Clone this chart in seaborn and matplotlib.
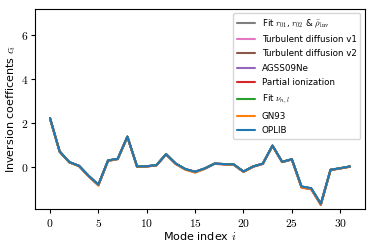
import numpy as np
import pandas as pd
import matplotlib
matplotlib.use("Agg")
import matplotlib.pyplot as plt
import seaborn as sns
from matplotlib.ticker import FuncFormatter

modes = list(range(32))

oplib = [2.23, 0.71, 0.23, 0.06, -0.40, -0.80, 0.30, 0.38, 1.39, 0.03, 0.04, 0.09,
         0.59, 0.16, -0.09, -0.21, -0.06, 0.16, 0.14, 0.12, -0.20, 0.03, 0.16, 0.98,
         0.24, 0.36, -0.88, -0.96, -1.67, -0.12, -0.05, 0.03]
gn93 = [2.22, 0.70, 0.21, 0.05, -0.42, -0.84, 0.28, 0.36, 1.37, 0.02, 0.03, 0.08,
        0.58, 0.14, -0.12, -0.25, -0.08, 0.15, 0.13, 0.10, -0.22, 0.02, 0.15, 0.97,
        0.23, 0.34, -0.92, -1.00, -1.70, -0.13, -0.06, 0.02]
fit_nu = [2.23, 0.71, 0.22, 0.06, -0.40, -0.81, 0.30, 0.37, 1.38, 0.03, 0.04, 0.09,
          0.59, 0.16, -0.10, -0.22, -0.06, 0.16, 0.14, 0.12, -0.20, 0.03, 0.16, 0.98,
          0.24, 0.36, -0.89, -0.97, -1.68, -0.12, -0.05, 0.03]
partial = [2.22, 0.71, 0.22, 0.05, -0.41, -0.82, 0.29, 0.37, 1.38, 0.02, 0.03, 0.08,
           0.58, 0.15, -0.10, -0.23, -0.07, 0.15, 0.13, 0.11, -0.21, 0.02, 0.15, 0.97,
           0.23, 0.35, -0.93, -1.01, -1.72, -0.13, -0.06, 0.02]
agss = [2.23, 0.71, 0.23, 0.06, -0.40, -0.80, 0.30, 0.38, 1.39, 0.03, 0.04, 0.09,
        0.59, 0.16, -0.09, -0.21, -0.06, 0.16, 0.14, 0.12, -0.20, 0.03, 0.16, 0.98,
        0.24, 0.36, -0.88, -0.96, -1.67, -0.12, -0.05, 0.03]
turb2 = [2.23, 0.71, 0.23, 0.06, -0.40, -0.80, 0.31, 0.38, 1.39, 0.03, 0.04, 0.09,
         0.59, 0.16, -0.09, -0.21, -0.06, 0.16, 0.14, 0.12, -0.20, 0.03, 0.16, 0.98,
         0.24, 0.36, -0.90, -0.98, -1.68, -0.12, -0.05, 0.03]
turb1 = [2.23, 0.71, 0.23, 0.06, -0.40, -0.80, 0.30, 0.38, 1.39, 0.03, 0.04, 0.09,
         0.59, 0.16, -0.09, -0.21, -0.06, 0.16, 0.14, 0.12, -0.20, 0.03, 0.16, 0.98,
         0.24, 0.36, -0.89, -0.97, -1.67, -0.12, -0.05, 0.03]
fit_r = [2.23, 0.71, 0.23, 0.06, -0.40, -0.80, 0.30, 0.38, 1.39, 0.03, 0.04, 0.09,
         0.59, 0.16, -0.09, -0.21, -0.06, 0.16, 0.14, 0.12, -0.20, 0.03, 0.16, 0.98,
         0.24, 0.36, -0.88, -0.96, -1.67, -0.12, -0.05, 0.03]

labels = [r"Fit $r_{01}$, $r_{02}$ & $\bar{\rho}_{\mathrm{inv}}$",
          "Turbulent diffusion v1", "Turbulent diffusion v2", "AGSS09Ne",
          "Partial ionization", r"Fit $\nu_{n,l}$", "GN93", "OPLIB"]
series = [fit_r, turb1, turb2, agss, partial, fit_nu, gn93, oplib]
colors = ["tab:gray", "tab:pink", "tab:brown", "tab:purple",
          "tab:red", "tab:green", "tab:orange", "tab:blue"]

rows = []
for lab, vals in zip(labels, series):
    for m, v in zip(modes, vals):
        rows.append({"mode": m, "c": v, "model": lab})
df = pd.DataFrame(rows)

sns.set_theme(style="ticks")
plt.rcParams["font.family"] = ["DejaVu Sans"]
plt.rcParams["mathtext.fontset"] = "cm"
plt.rcParams["text.color"] = "black"
plt.rcParams["axes.labelcolor"] = "black"

fig = plt.figure(figsize=(3.74, 2.49), dpi=100)
ax = fig.add_axes([0.0936, 0.161, 0.882, 0.803])
sns.lineplot(data=df, x="mode", y="c", hue="model", hue_order=labels,
             palette=dict(zip(labels, colors)), linewidth=1.5, ax=ax)

ax.set_xlim(-1.55, 32.55)
ax.set_ylim(-1.9, 7.2)
ax.set_xticks([0, 5, 10, 15, 20, 25, 30])
ax.set_yticks([0, 2, 4, 6])
fmt = FuncFormatter(lambda v, p: r"$%d$" % v)
ax.xaxis.set_major_formatter(fmt)
ax.yaxis.set_major_formatter(fmt)
ax.tick_params(labelsize=8.3, length=3.2, width=0.8, color="black", labelcolor="black")
ax.tick_params(axis="y", pad=1.8)
ax.tick_params(axis="x", pad=2.5)
for s in ax.spines.values():
    s.set_color("black")
    s.set_linewidth(0.8)
ax.set_xlabel(r"Mode index $i$", fontsize=8)
ax.set_ylabel(r"Inversion coefficents $c_i$", fontsize=8)
ax.xaxis.set_label_coords(0.5, -0.105)
ax.yaxis.set_label_coords(-0.052, 0.5)
leg = ax.legend(loc="upper right", fontsize=6.3, frameon=True, framealpha=0.8,
                labelspacing=0.62, handlelength=2.0, handletextpad=0.8,
                borderpad=0.45, borderaxespad=0.5)
leg.get_frame().set_edgecolor("#cccccc")
fig.savefig("out.png", dpi=100)
